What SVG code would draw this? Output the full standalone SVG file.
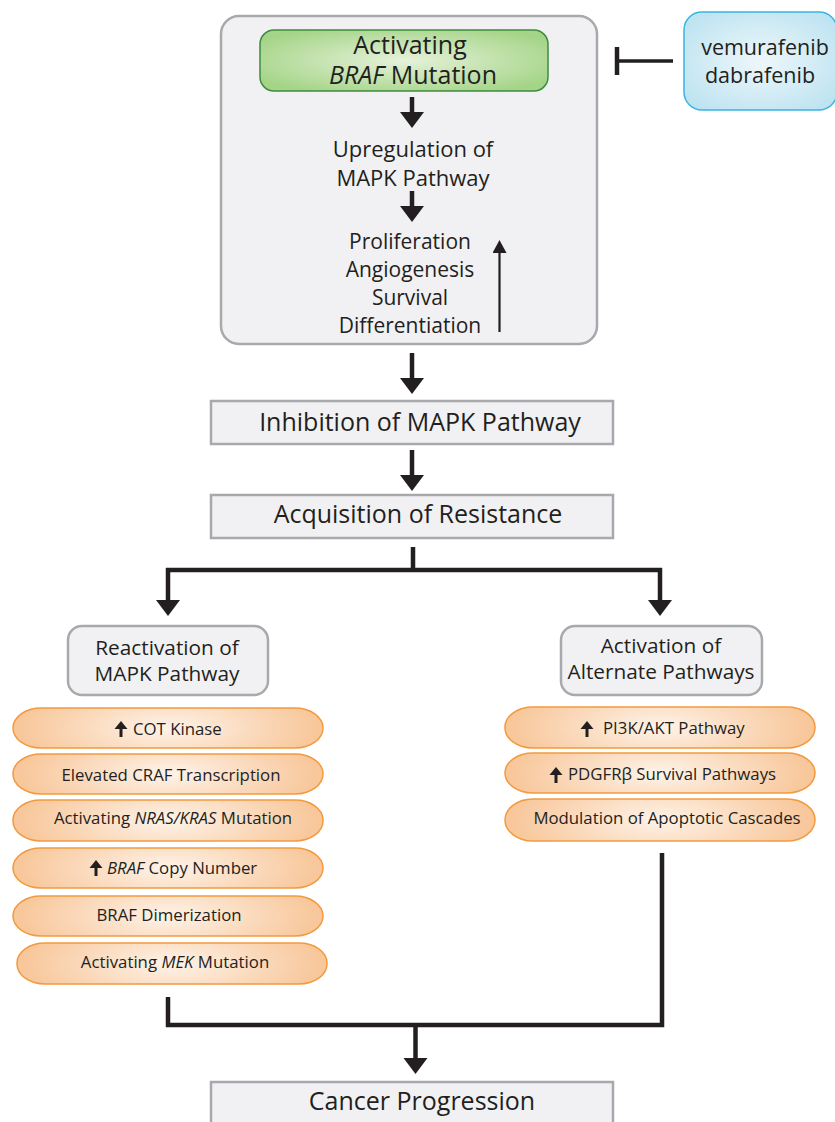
<svg xmlns="http://www.w3.org/2000/svg" xmlns:xlink="http://www.w3.org/1999/xlink" width="835" height="1122" viewBox="0 0 835 1122">
<style>
  text { font-family: "Open Sans", Lato, "Liberation Sans", sans-serif; fill: #231f20; }
  .big { font-size: 25px; }
  .green { font-size: 25px; }
  .mid { font-size: 22px; }
  .eff { font-size: 21px; }
  .drug { font-size: 21.5px; }
  .sub { font-size: 20.8px; }
  .pill-t { font-size: 16.8px; }
  .c { text-anchor: middle; }
  .box { fill: #f1f1f3; stroke: #a7a9ac; stroke-width: 2.5; }
  .pill { fill: url(#gOrange); stroke: #f29a3f; stroke-width: 1.5; }
  .conn { fill: none; stroke: #231f20; stroke-width: 4.5; }
  .arr { marker-end: url(#ah); }
</style>
<defs>
  <radialGradient id="gGreen" cx="0.5" cy="0.5" r="0.6">
    <stop offset="0" stop-color="#e6f2da"/>
    <stop offset="1" stop-color="#a4d487"/>
  </radialGradient>
  <radialGradient id="gBlue" cx="0.5" cy="0.5" r="0.6">
    <stop offset="0" stop-color="#eef7fa"/>
    <stop offset="1" stop-color="#bfe4f1"/>
  </radialGradient>
  <radialGradient id="gOrange" cx="0.5" cy="0.5" r="0.55" gradientTransform="translate(0.5 0.5) scale(1 2.5) translate(-0.5 -0.5)">
    <stop offset="0" stop-color="#fef3e9"/>
    <stop offset="1" stop-color="#f7c190"/>
  </radialGradient>
  <marker id="ah" markerUnits="userSpaceOnUse" markerWidth="26" markerHeight="26" refX="1" refY="12" orient="auto">
    <path d="M0,0 L16,12 L0,24 Z" fill="#231f20"/>
  </marker>
  <marker id="ahs" markerUnits="userSpaceOnUse" markerWidth="16" markerHeight="16" refX="1" refY="7" orient="auto">
    <path d="M0,0 L13,7 L0,14 Z" fill="#231f20"/>
  </marker>
  <path id="up" d="M0,-16 L6.5,-8 L1.5,-8 L1.5,0 L-1.5,0 L-1.5,-8 L-6.5,-8 Z" fill="#231f20"/>
</defs>

<g id="node-main">
  <rect x="221" y="16" width="376" height="328" rx="18" class="box"/>
</g>

<g id="connectors">
  <line class="conn arr" x1="412" y1="97" x2="412" y2="113"/>
  <line class="conn arr" x1="412" y1="191" x2="412" y2="207"/>
  <line x1="499.5" y1="332" x2="499.5" y2="252" stroke="#231f20" stroke-width="2.2" marker-end="url(#ahs)"/>
  <line x1="673" y1="61" x2="617" y2="61" stroke="#231f20" stroke-width="3.5"/>
  <line x1="617" y1="47" x2="617" y2="75" stroke="#231f20" stroke-width="4.5"/>
  <line class="conn arr" x1="412" y1="353" x2="412" y2="379"/>
  <line class="conn arr" x1="412" y1="450" x2="412" y2="476"/>
  <path class="conn" d="M413,547 V570 M166,570 H662"/>
  <line class="conn arr" x1="168" y1="568" x2="168" y2="601"/>
  <line class="conn arr" x1="660" y1="568" x2="660" y2="601"/>
  <path class="conn" d="M168,997 V1025 H662 V853"/>
  <line class="conn arr" x1="415.5" y1="1025" x2="415.5" y2="1059"/>
</g>

<g id="node-braf">
  <rect x="260" y="30" width="288" height="61" rx="14" fill="url(#gGreen)" stroke="#3c8c3f" stroke-width="1.5"/>
  <text class="green c" x="410" y="54">Activating</text>
  <text class="green c" x="413" y="84"><tspan font-style="italic">BRAF</tspan> Mutation</text>
</g>
<g id="node-upreg">
  <text class="mid c" x="413" y="157">Upregulation of</text>
  <text class="mid c" x="413" y="186">MAPK Pathway</text>
</g>
<g id="node-effects">
  <text class="eff c" x="410" y="249">Proliferation</text>
  <text class="eff c" x="410" y="277">Angiogenesis</text>
  <text class="eff c" x="410" y="305">Survival</text>
  <text class="eff c" x="410" y="333">Differentiation</text>
</g>
<g id="node-drugs">
  <rect x="684" y="12" width="153" height="98" rx="18" fill="url(#gBlue)" stroke="#3ab4e2" stroke-width="1.5"/>
  <text class="drug c" x="765" y="55">vemurafenib</text>
  <text class="drug c" x="760" y="83">dabrafenib</text>
</g>
<g id="node-inhibition">
  <rect x="211" y="401" width="402" height="43" class="box"/>
  <text class="big c" x="420" y="431">Inhibition of MAPK Pathway</text>
</g>
<g id="node-resistance">
  <rect x="211" y="495" width="402" height="43" class="box"/>
  <text class="big c" x="418" y="523">Acquisition of Resistance</text>
</g>
<g id="node-reactivation">
  <rect x="68" y="626" width="200" height="69" rx="14" class="box"/>
  <text class="sub c" x="167" y="655">Reactivation of</text>
  <text class="sub c" x="167" y="681">MAPK Pathway</text>
</g>
<g id="node-alternate">
  <rect x="561" y="626" width="201" height="69" rx="14" class="box"/>
  <text class="sub c" x="661" y="653">Activation of</text>
  <text class="sub c" x="661" y="679">Alternate Pathways</text>
</g>
<g id="node-cot">
  <rect x="13" y="708" width="310" height="40" rx="28" ry="20" class="pill"/>
  <use xlink:href="#up" x="121" y="737"/>
  <text class="pill-t" x="133" y="735">COT Kinase</text>
</g>
<g id="node-craf">
  <rect x="13" y="754" width="310" height="40" rx="28" ry="20" class="pill"/>
  <text class="pill-t c" x="171" y="781">Elevated CRAF Transcription</text>
</g>
<g id="node-nras">
  <rect x="13" y="800" width="310" height="41" rx="28" ry="20" class="pill"/>
  <text class="pill-t c" x="173" y="824">Activating <tspan font-style="italic">NRAS/KRAS</tspan> Mutation</text>
</g>
<g id="node-brafcopy">
  <rect x="13" y="848" width="310" height="40" rx="28" ry="20" class="pill"/>
  <use xlink:href="#up" x="96" y="876"/>
  <text class="pill-t" x="107" y="874"><tspan font-style="italic">BRAF</tspan> Copy Number</text>
</g>
<g id="node-dimer">
  <rect x="13" y="896" width="310" height="40" rx="28" ry="20" class="pill"/>
  <text class="pill-t c" x="169" y="921">BRAF Dimerization</text>
</g>
<g id="node-mek">
  <rect x="17" y="943" width="310" height="41" rx="28" ry="20" class="pill"/>
  <text class="pill-t c" x="175" y="968">Activating <tspan font-style="italic">MEK</tspan> Mutation</text>
</g>
<g id="node-pi3k">
  <rect x="505" y="707" width="310" height="41" rx="28" ry="20" class="pill"/>
  <use xlink:href="#up" x="587" y="737"/>
  <text class="pill-t" x="603" y="734">PI3K/AKT Pathway</text>
</g>
<g id="node-pdgfr">
  <rect x="505" y="753" width="310" height="40" rx="28" ry="20" class="pill"/>
  <use xlink:href="#up" x="556" y="783"/>
  <text class="pill-t" x="568" y="780">PDGFRβ Survival Pathways</text>
</g>
<g id="node-apoptotic">
  <rect x="505" y="799" width="310" height="42" rx="28" ry="21" class="pill"/>
  <text class="pill-t c" x="667" y="824">Modulation of Apoptotic Cascades</text>
</g>
<g id="node-cancer">
  <rect x="211" y="1082" width="402" height="50" class="box"/>
  <text class="big c" x="422" y="1110">Cancer Progression</text>
</g>
</svg>
